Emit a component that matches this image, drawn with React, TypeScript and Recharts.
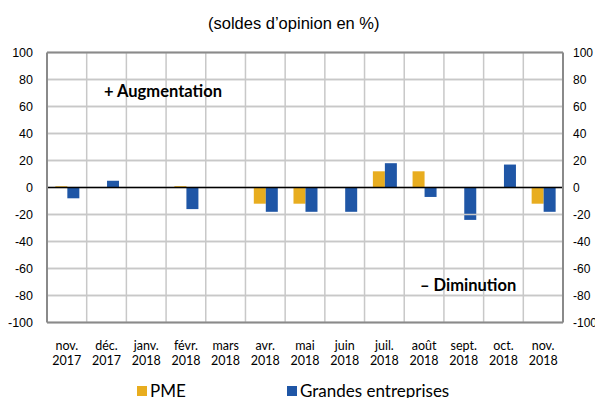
import { ComposedChart, Bar, Line, XAxis, YAxis, CartesianGrid, ReferenceLine, Legend } from 'recharts'

const months = ['nov.', 'déc.', 'janv.', 'févr.', 'mars', 'avr.', 'mai', 'juin', 'juil.', 'août', 'sept.', 'oct.', 'nov.']
const years = ['2017', '2017', '2018', '2018', '2018', '2018', '2018', '2018', '2018', '2018', '2018', '2018', '2018']
const pme = [1, 0, 0, 1, 0, -12, -12, 0, 12, 12, 0, 0, -12]
const grandes = [-8, 5, 0, -16, 0, -18, -18, -18, 18, -7, -24, 17, -18]
const yTicks = [-100, -80, -60, -40, -20, 0, 20, 40, 60, 80, 100]

const data = months.map((m, i) => ({
  label: `${m} ${years[i]}`,
  pme: pme[i],
  grandes: grandes[i],
}))

const GOLD = '#E8AD1F'
const BLUE = '#1F56A6'
const BORDER = '#8a8a8a'
const GRID = '#c8c8c8'

const tickFont = '"Liberation Sans", Arial, sans-serif'
const catFont = 'Lato, "Open Sans", sans-serif'

function MonthTick({ x, y, payload }: any) {
  const [m, yr] = String(payload.value).split(' ')
  return (
    <text x={x} y={y} textAnchor="middle" fontFamily={catFont} fontSize={12.5} fill="#000">
      <tspan x={x} dy={19.5}>{m}</tspan>
      <tspan x={x} dy={14.5}>{yr}</tspan>
    </text>
  )
}

function LegendBox() {
  const item = (color: string, text: string, left: number) => (
    <div style={{ position: 'absolute', left, top: 0, height: 24, display: 'flex', alignItems: 'center' }}>
      <span style={{ width: 10, height: 10, background: color, display: 'inline-block', marginRight: 3 }} />
      <span style={{ fontFamily: catFont, fontSize: 17, color: '#000', lineHeight: '24px' }}>{text}</span>
    </div>
  )
  return (
    <div style={{ position: 'relative', width: 603, height: 24, margin: 0 }}>
      {item(GOLD, 'PME', 137)}
      {item(BLUE, 'Grandes entreprises', 287)}
    </div>
  )
}

const note = (text: string, left: number, top: number, size: number, bold: boolean, font: string) => (
  <div
    style={{
      position: 'absolute',
      left,
      top,
      fontFamily: font,
      fontSize: size,
      fontWeight: bold ? 700 : 400,
      lineHeight: '20px',
      whiteSpace: 'nowrap',
      color: '#000',
    }}
  >
    {text}
  </div>
)

export default function App() {
  const boundaries = ({ offset }: any) => {
    const out: number[] = []
    const w = offset.width / months.length
    for (let i = 1; i < months.length; i++) out.push(offset.left + i * w)
    return out
  }

  return (
    <div style={{ position: 'relative', width: 603, height: 406, margin: -8, background: '#fff' }}>
      <ComposedChart
        width={603}
        height={406}
        data={data}
        margin={{ top: 52.5, right: 0, bottom: 0, left: 0 }}
        barCategoryGap="21%"
        barGap={0}
      >
        <CartesianGrid
          stroke={GRID}
          strokeWidth={1.5}
          verticalCoordinatesGenerator={boundaries}
        />
        <XAxis
          dataKey="label"
          interval={0}
          height={59.5}
          tickLine={false}
          axisLine={{ stroke: BORDER, strokeWidth: 2 }}
          tick={<MonthTick />}
        />
        <YAxis
          domain={[-100, 100]}
          ticks={yTicks}
          width={47}
          tickLine={false}
          tickMargin={8}
          axisLine={{ stroke: BORDER, strokeWidth: 2 }}
          tick={{ fontFamily: tickFont, fontSize: 12.5, fill: '#000' }}
        />
        <YAxis
          yAxisId="right"
          orientation="right"
          domain={[-100, 100]}
          ticks={yTicks}
          width={40}
          tickLine={false}
          tickMargin={4}
          axisLine={{ stroke: BORDER, strokeWidth: 2 }}
          tick={{ fontFamily: tickFont, fontSize: 12, fill: '#000' }}
        />
        {yTicks
          .filter((t) => t !== 0 && t !== 100 && t !== -100)
          .map((t) => (
            <ReferenceLine key={t} y={t} stroke={GRID} strokeWidth={1.5} />
          ))}
        <Bar dataKey="pme" name="PME" fill={GOLD} isAnimationActive={false} />
        <Bar dataKey="grandes" name="Grandes entreprises" fill={BLUE} isAnimationActive={false} />
        <Line
          yAxisId="right"
          dataKey="grandes"
          stroke="none"
          dot={false}
          activeDot={false}
          legendType="none"
          isAnimationActive={false}
        />
        <ReferenceLine y={100} stroke={BORDER} strokeWidth={2} ifOverflow="visible" />
        <ReferenceLine y={0} stroke="#000" strokeWidth={1.5} />
        <Legend
          content={() => <LegendBox />}
          wrapperStyle={{ top: 379, left: 0, width: 603, height: 24 }}
        />
      </ComposedChart>
      {note('(soldes d’opinion en %)', 208, 13, 16.5, false, tickFont)}
      {note('+ Augmentation', 104, 81, 16.5, true, catFont)}
      {note('– Diminution', 420, 275, 16.5, true, catFont)}
    </div>
  )
}
